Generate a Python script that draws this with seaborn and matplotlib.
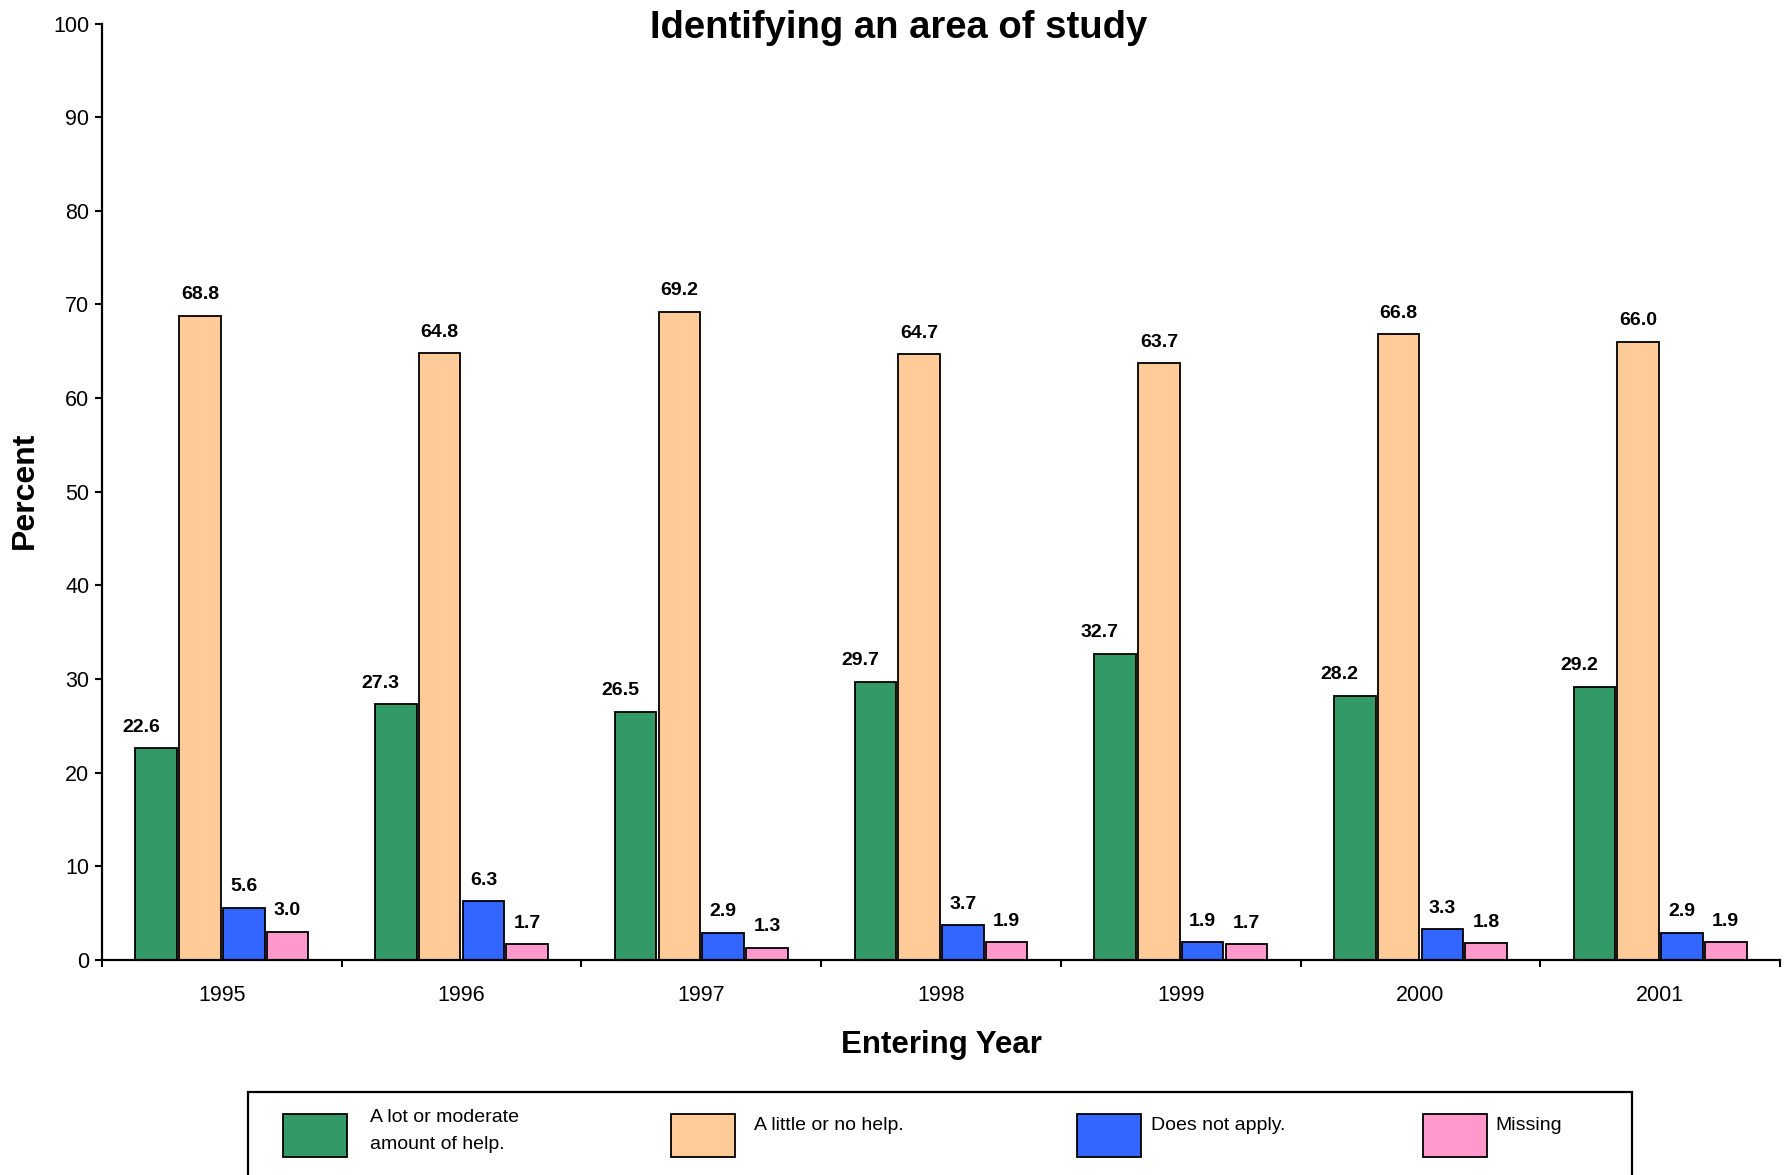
import matplotlib
matplotlib.use("Agg")
import matplotlib.pyplot as plt
from matplotlib.patches import Rectangle
from matplotlib.ticker import FixedLocator
import seaborn as sns
import pandas as pd

# ---- data ----
years = ['1995', '1996', '1997', '1998', '1999', '2000', '2001']
series_names = ['A lot or moderate\namount of help.', 'A little or no help.',
                'Does not apply.', 'Missing']
lot_help = [22.6, 27.3, 26.5, 29.7, 32.7, 28.2, 29.2]
little_help = [68.8, 64.8, 69.2, 64.7, 63.7, 66.8, 66.0]
not_apply = [5.6, 6.3, 2.9, 3.7, 1.9, 3.3, 2.9]
missing = [3.0, 1.7, 1.3, 1.9, 1.7, 1.8, 1.9]
colors = ['#339966', '#FFCC99', '#3366FF', '#FF99CC']
y_ticks = [0, 10, 20, 30, 40, 50, 60, 70, 80, 90, 100]

series_values = [lot_help, little_help, not_apply, missing]
rows = []
for name, vals in zip(series_names, series_values):
    for yr, v in zip(years, vals):
        rows.append({'year': yr, 'series': name, 'pct': v})
df = pd.DataFrame(rows)

sns.set_style("white")
plt.rcParams['font.family'] = ['Liberation Sans', 'DejaVu Sans']
plt.rcParams['text.color'] = 'black'
plt.rcParams['axes.labelcolor'] = 'black'
plt.rcParams['xtick.color'] = 'black'
plt.rcParams['ytick.color'] = 'black'

fig = plt.figure(figsize=(17.87, 11.75), dpi=100)
ax = fig.add_axes([102/1787, 1 - 960/1175, (1780 - 102)/1787, (960 - 23.5)/1175])

sns.barplot(data=df, x='year', y='pct', hue='series', hue_order=series_names,
            palette=colors, width=0.73, gap=0.05, edgecolor='black',
            linewidth=1.3, legend=False, ax=ax, saturation=1)

# value labels
for ci, (container, vals) in enumerate(zip(ax.containers, series_values)):
    dx = -11 if ci == 0 else 0
    for bar, v in zip(container, vals):
        ax.annotate(f'{v:.1f}', (bar.get_x() + bar.get_width() / 2, bar.get_height()),
                    xytext=(dx, 9), textcoords='offset points', ha='center',
                    va='bottom', fontsize=14, fontweight='bold', color='black')

ax.set_xlim(-0.5, len(years) - 0.5)
ax.set_ylim(0, 100)
ax.set_yticks(y_ticks)
ax.tick_params(axis='y', which='major', direction='out', length=5, width=1.5,
               labelsize=15.5, pad=4, left=True, color='black', labelcolor='black')
ax.tick_params(axis='x', which='major', length=0, labelsize=15.5, pad=18,
               labelcolor='black')
ax.xaxis.set_minor_locator(FixedLocator([i - 0.5 for i in range(len(years) + 1)]))
ax.tick_params(axis='x', which='minor', direction='out', length=5, width=1.5,
               bottom=True, color='black')
for s in ['top', 'right']:
    ax.spines[s].set_visible(False)
for s in ['left', 'bottom']:
    ax.spines[s].set_linewidth(1.6)
    ax.spines[s].set_color('black')

ax.set_xlabel('Entering Year', fontsize=22.5, fontweight='bold', labelpad=17,
              color='black')
ax.set_ylabel('')
fig.text(25/1787, 1 - 490/1175, 'Percent', rotation=90, fontsize=23,
         fontweight='bold', ha='center', va='center', color='black')
fig.text(899/1787, 1 - 28/1175, 'Identifying an area of study', fontsize=27.5,
         fontweight='bold', ha='center', va='center', color='black')

# ---- legend box ----
W, H = 1787, 1175
fig.patches.append(Rectangle((248/W, -0.05), (1632 - 248)/W, 0.05 + 1 - 1092/H,
                             transform=fig.transFigure, fill=False,
                             edgecolor='black', linewidth=1.6))
patch_x = [283, 671, 1077, 1423]
text_x = [370, 754, 1151, 1495]
for px, tx, c, name in zip(patch_x, text_x, colors, series_names):
    fig.patches.append(Rectangle((px/W, 1 - 1157/H), 64/W, 43/H,
                                 transform=fig.transFigure, facecolor=c,
                                 edgecolor='black', linewidth=1.3))
    if '\n' in name:
        fig.text(tx/W, 1 - 1131/H, name, fontsize=14, ha='left', va='center',
                 linespacing=1.75, color='black')
    else:
        fig.text(tx/W, 1 - 1126/H, name, fontsize=14, ha='left', va='center',
                 color='black')

fig.savefig('out.png', dpi=100)
